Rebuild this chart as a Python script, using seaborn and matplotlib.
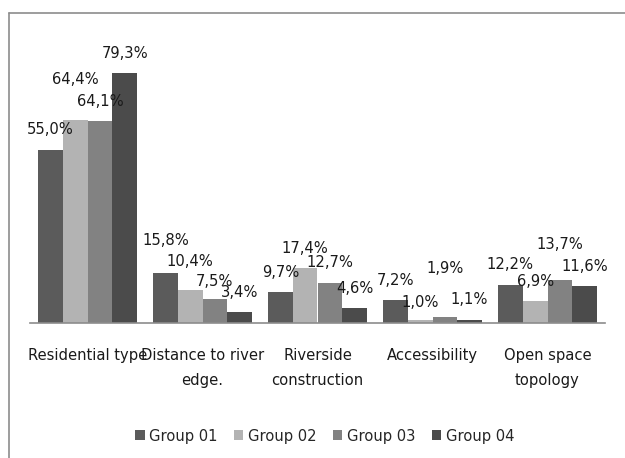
import pandas as pd
import numpy as np
import matplotlib
matplotlib.use("Agg")
import matplotlib.pyplot as plt
import seaborn as sns
from matplotlib.lines import Line2D
from matplotlib import font_manager

# Data
categories = ["Residential type", "Distance to river\nedge.", "Riverside\nconstruction",
              "Accessibility", "Open space\ntopology"]
groups = ["Group 01", "Group 02", "Group 03", "Group 04"]
group01 = [55.0, 15.8, 9.7, 7.2, 12.2]
group02 = [64.4, 10.4, 17.4, 1.0, 6.9]
group03 = [64.1, 7.5, 12.7, 1.9, 13.7]
group04 = [79.3, 3.4, 4.6, 1.1, 11.6]

colors = ["#5b5b5b", "#b3b3b3", "#828282", "#4b4b4b"]

# extra label lift (pixels) where the labels were moved apart
nudge = {(0, 1): 21, (1, 0): 13, (1, 1): 9, (1, 2): -2, (3, 2): 28, (3, 1): -3, (4, 2): 15}

rows = []
for g, vals in zip(groups, [group01, group02, group03, group04]):
    for c, v in zip(categories, vals):
        rows.append({"category": c, "group": g, "value": v})
df = pd.DataFrame(rows)

sns.set_style("white")

# pick a narrow face if one is around
names = {(f.name, str(f.stretch)) for f in font_manager.fontManager.ttflist}
stretch = "normal"
if any(n == "Liberation Sans Narrow" for n, _ in names):
    family, fs = "Liberation Sans Narrow", 12.5
elif any(n == "DejaVu Sans" and s in ("condensed", "semi-condensed") for n, s in names):
    family, fs, stretch = "DejaVu Sans", 11.8, "condensed"
else:
    family, fs = "Liberation Sans", 12
plt.rcParams["font.family"] = [family, "DejaVu Sans"]
plt.rcParams["font.stretch"] = stretch

fig = plt.figure(figsize=(6.25, 4.58), dpi=100)
ax = fig.add_axes([0.048, 0.2948, 0.92, 0.619])

sns.barplot(data=df, x="category", y="value", hue="group", order=categories,
            hue_order=groups, palette=colors, width=0.86, gap=0, saturation=1,
            edgecolor="none", linewidth=0, ax=ax)

ax.set_ylim(0, 90)
ax.set_xlim(-0.5, 4.5)
ax.set_xlabel("")
ax.set_ylabel("")
ax.set_yticks([])
for s in ["top", "right", "left"]:
    ax.spines[s].set_visible(False)
ax.spines["bottom"].set_color("#8c8c8c")
ax.spines["bottom"].set_linewidth(1.2)
ax.tick_params(axis="x", length=0, pad=18, labelsize=fs, colors="#1a1a1a")
for t in ax.get_xticklabels():
    t.set_linespacing(1.8)

# value labels
for gi, cont in enumerate(ax.containers):
    for ci, bar in enumerate(cont):
        v = bar.get_height()
        lift = 20 + nudge.get((ci, gi), 0)
        ax.annotate(f"{v:.1f}%".replace(".", ","),
                    (bar.get_x() + bar.get_width() / 2, v),
                    xytext=(0, lift * 0.72), textcoords="offset points",
                    ha="center", va="center", fontsize=fs, color="#1a1a1a")

leg = ax.legend(loc="center", bbox_to_anchor=(0.52, 0.048), bbox_transform=fig.transFigure,
                ncol=4, frameon=False, fontsize=fs, handlelength=0.55, handleheight=0.55,
                handletextpad=0.3, columnspacing=1.0)

# outer frame (cut off at right and bottom like the source)
fig.add_artist(Line2D([9 / 625, 1.0], [1 - 13 / 458, 1 - 13 / 458], color="#8c8c8c", lw=1.2))
fig.add_artist(Line2D([9 / 625, 9 / 625], [0.0, 1 - 13 / 458], color="#8c8c8c", lw=1.2))

fig.savefig("out.png", dpi=100)
